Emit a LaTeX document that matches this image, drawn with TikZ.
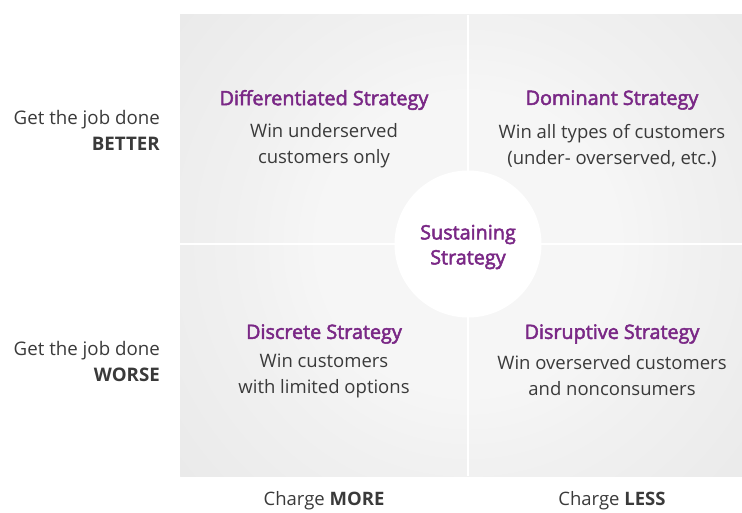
\documentclass[tikz,border=0pt]{standalone}
\usepackage{fontspec}
\setmainfont{Open Sans}
\newfontfamily\headfont[FakeBold=2.5]{Open Sans}
\definecolor{purp}{HTML}{7A2886}
\definecolor{txt}{HTML}{3A3A3A}
\definecolor{edge}{HTML}{D5D5D5}
\definecolor{midg}{HTML}{E0E0E0}
\definecolor{nearw}{HTML}{F1F1F1}
\definecolor{cent}{HTML}{F6F6F6}
\pgfdeclareradialshading{quadglow}{\pgfpoint{0bp}{0bp}}{%
  color(0bp)=(cent); color(10bp)=(cent); color(15bp)=(nearw);
  color(39bp)=(midg); color(50bp)=(edge)}
\begin{document}
\begin{tikzpicture}[x=1pt,y=1pt,
  lbl/.style={font=\fontsize{18.5}{26}\selectfont, text=txt, inner sep=0pt, align=center},
  sidelbl/.style={font=\fontsize{18.7}{26}\selectfont, text=txt, inner sep=0pt, align=right, anchor=east},
  head/.style={font=\headfont\fontsize{19.8}{25}\selectfont, text=purp, inner sep=0pt},
  divider/.style={draw=white, line width=2pt}]
\useasboundingbox (0,0) rectangle (742,512);
% background panel
\begin{scope}
  \clip (180,36) rectangle (742,497);
  \shade[shading=quadglow] (468,268) circle (370);
\end{scope}
\coordinate (vt) at (468,497);
\coordinate (vb) at (468,36);
\coordinate (hl) at (180,268);
\coordinate (hr) at (742,268);
\draw[divider] (vt) -- (vb);
\draw[divider] (hl) -- (hr);
\fill[white] (468,268) circle (73.5);
% center
\node[head, align=center] (sus) at (468,265) {Sustaining\\Strategy};
% quadrants
\node[head] (dif) at (324,412) {Differentiated Strategy};
\node[lbl] (difd) at (324,366) {Win underserved\\customers only};
\node[head] (dom) at (612,412) {Dominant Strategy};
\node[lbl] (domd) at (612,366) {Win all types of customers\\(under- overserved, etc.)};
\node[head] (dis) at (324,178) {Discrete Strategy};
\node[lbl] (disd) at (324,136) {Win customers\\with limited options};
\node[head] (dru) at (612,178) {Disruptive Strategy};
\node[lbl] (drud) at (612,136) {Win overserved customers\\and nonconsumers};
% axes
\node[sidelbl] (better) at (160,382) {Get the job done\\\textbf{BETTER}};
\node[sidelbl] (worse) at (160,151) {Get the job done\\\textbf{WORSE}};
\node[lbl] (more) at (324,11) {Charge \textbf{MORE}};
\node[lbl] (less) at (612,11) {Charge \textbf{LESS}};
\end{tikzpicture}
\end{document}
